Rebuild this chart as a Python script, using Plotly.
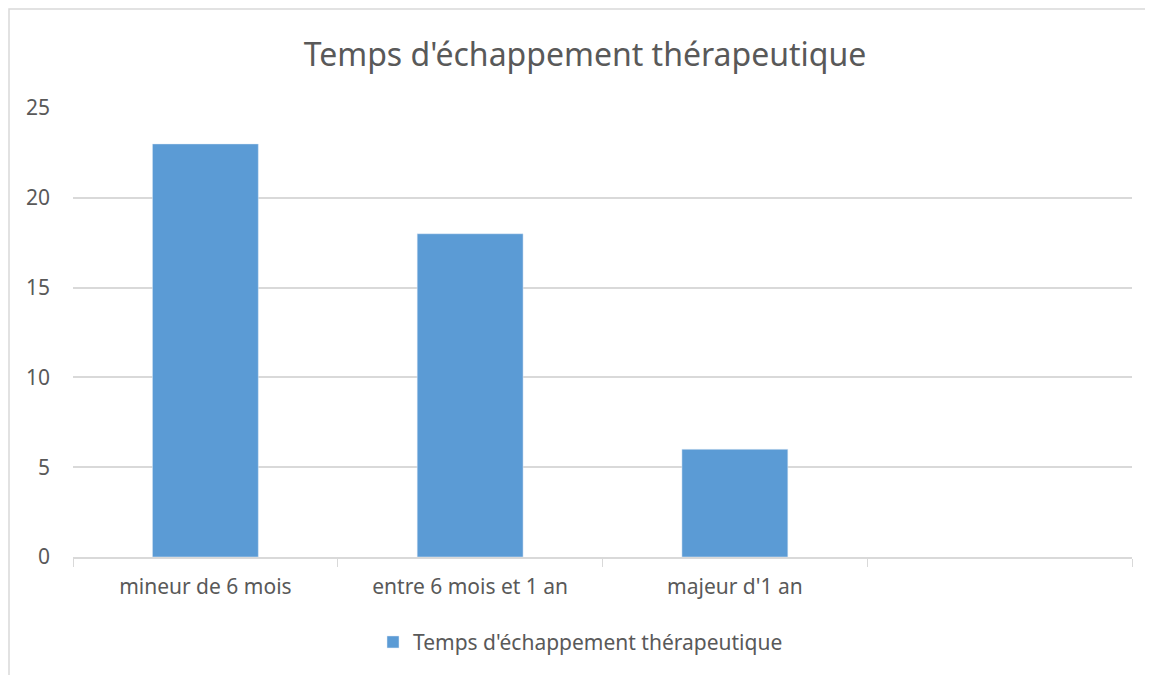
import plotly.graph_objects as go

categories = ["mineur de 6 mois", "entre 6 mois et 1 an", "majeur d'1 an", " "]
values = [23, 18, 6, None]
series_name = "Temps d'échappement thérapeutique"
title_text = "Temps d'échappement thérapeutique"
y_ticks = [0, 5, 10, 15, 20, 25]

GRID = "#d9d9d9"
TEXT = "#595959"
BAR = "#5b9bd5"
FONT = "Noto Sans, Open Sans, sans-serif"

# the page body adds 8px around the figure, so the figure is 8px smaller
W, H = 1145, 667
L, T, R, B = 65, 100, 21, 118
PW, PH = W - L - R, H - T - B

fig = go.Figure()
fig.add_trace(go.Bar(
    x=categories,
    y=values,
    name=series_name,
    marker=dict(color=BAR),
    showlegend=True,
))

fig.update_layout(
    width=W,
    height=H,
    margin=dict(l=L, r=R, t=T, b=B),
    paper_bgcolor="white",
    plot_bgcolor="white",
    font=dict(family=FONT, color=TEXT, size=21),
    bargap=0.6,
    title=dict(
        text=title_text,
        font=dict(size=32, color=TEXT, family=FONT),
        x=(577 - L) / PW, xref="paper", xanchor="center",
        y=1 - 47 / H, yref="container", yanchor="middle",
    ),
    legend=dict(
        orientation="h",
        x=(365 - L) / PW, xanchor="left",
        y=-0.19, yanchor="middle",
        font=dict(size=21, color=TEXT),
    ),
    xaxis=dict(
        type="category",
        categoryorder="array",
        categoryarray=categories,
        tickson="boundaries",
        ticks="outside",
        ticklen=8,
        tickcolor=GRID,
        showline=True,
        linecolor=GRID,
        linewidth=1.5,
        showgrid=False,
        ticklabelstandoff=10,
        tickfont=dict(size=21, color=TEXT),
    ),
    yaxis=dict(
        range=[0, 25],
        tickvals=y_ticks,
        showgrid=True,
        gridcolor=GRID,
        gridwidth=1.5,
        zeroline=False,
        showline=False,
        ticks="",
        ticklabelstandoff=22,
        tickfont=dict(size=21, color=TEXT),
    ),
    shapes=[dict(
        type="rect",
        xref="paper", yref="paper",
        x0=(1 - L) / PW, x1=1.1,
        y0=-0.4, y1=1 + (T - 1) / PH,
        line=dict(color=GRID, width=1.5),
        fillcolor="rgba(0,0,0,0)",
        layer="below",
    )],
)

fig.write_html("out.html")
